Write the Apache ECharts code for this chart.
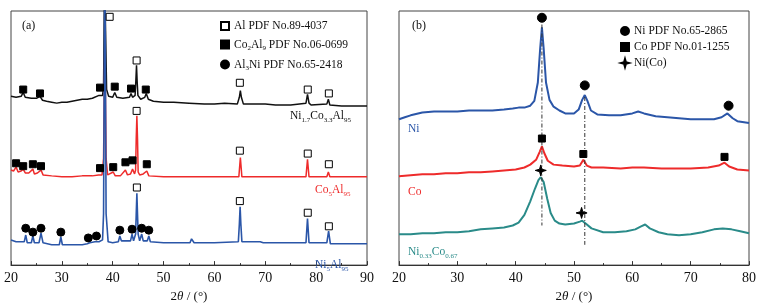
<!DOCTYPE html>
<html>
<head>
<meta charset="utf-8">
<script src="https://cdn.jsdelivr.net/npm/echarts@6/dist/echarts.min.js"></script>
<style>
  html, body { margin: 0; padding: 0; background: #fff; }
  #main { width: 763px; height: 308px; }
</style>
</head>
<body>
<div id="main"></div>
<script>
// (a) XRD of the Al based alloys, intensity in a.u. (offset traces)
var ni17co33 = [[20,174],[21,173],[22,174],[22.4,178],[22.8,173],[24,172],[25,172],[25.7,174],[26.2,170],[27,169],[28,168],[29,167],[30,168],[31,168],
    [32,169],[33,170],[34,171],[35,171],[36,172],[37.3,175],[37.6,177],[38,175],[38.2,183],[38.4,300],[38.6,300],[38.8,181],[39.2,174],[40,173],
    [40.4,178],[40.8,173],[42,172],[43.3,173],[43.6,177],[43.9,173],[44.4,175],[44.55,190],[44.68,206],[44.8,190],[44.95,175],[45.5,171],[46.3,173],
    [46.6,177],[47,171],[48,169],[50,168],[52,168],[55,167],[58,166],[60,166],[62,167],[64.5,166],[64.9,173],[65.1,180],[65.3,173],[65.7,166],
    [68,166],[70,166],[72,165],[75,165],[78,167],[78.3,176],[78.6,167],[79,165],[82.1,166],[82.4,171],[82.7,165],[85,164],[88,164],[90,164]];
var co5al95 = [[20,98],[20.5,97],[21,101],[21.4,96],[22,97],[22.4,99],[22.8,95],[23.5,95],[24.3,99],[24.6,94],[25.2,95],[25.9,98],[26.3,93],
    [28,92],[30,91],[32,91],[34,92],[36,92],[37.2,93],[37.5,95],[37.9,93],[38.2,110],[38.45,230],[38.7,110],[39,93],[40.1,96],[40.5,92],
    [41.5,92],[42.5,98],[42.9,93],[43.5,94],[43.9,99],[44.3,94],[44.5,98],[44.62,130],[44.75,154],[44.88,130],[45,96],[45.3,93],[46,94],
    [46.7,97],[47.1,92],[50,91],[55,91],[60,91],[64.8,91],[65.1,111],[65.4,91],[70,91],[75,91],[78,91],[78.3,109],[78.6,91],[82.1,91],
    [82.4,96],[82.7,91],[86,91],[90,91]];
var ni5al95 = [[20,26],[21,24],[22,24],[22.6,24],[22.9,31],[23.2,23],[24,23],[24.3,30],[24.6,23],[25.5,23],[25.9,33],[26.3,23],[28,21],
    [29.5,21],[29.8,29],[30.1,21],[32,21],[34,21],[35,22],[35.2,24],[35.5,23],[36.5,24],[36.8,26],[37.3,24],[38,26],[38.2,53],[38.45,330],
    [38.7,53],[39.1,24],[40,23],[41.1,24],[41.4,30],[41.7,25],[43.5,25],[43.8,32],[44.1,25],[44.5,32],[44.62,52],[44.75,74],[44.88,52],
    [45,32],[45.3,25],[45.7,32],[46,25],[46.8,25],[47.1,30],[47.4,24],[50,23],[55.2,23],[55.5,27],[56,23],[60,23],[64.7,24],[64.9,42],
    [65.05,60],[65.2,42],[65.4,24],[69,24],[69.3,26],[69.6,23],[75,23],[78,23],[78.3,48],[78.6,23],[82.1,23],[82.45,35],[82.8,22],[90,22]];

var alMarks = [[39.4,256],[44.7,211],[65.0,188],[78.35,181],[82.5,177],[44.7,159],[65.0,118],[78.35,115],[82.5,104],
    [44.75,80],[65.0,66],[78.35,54],[82.5,40]];
var co2al9Marks = [[22.4,181],[25.7,177],[37.5,183],[40.4,184],[43.6,182],[46.5,181],[21.0,105],[22.4,102],[24.3,104],[25.9,102],
    [37.5,100],[40.1,101],[42.5,106],[43.9,108],[46.7,104]];
var al3niMarks = [[22.9,38],[24.3,34],[25.9,38],[29.8,34],[35.2,28],[36.8,30],[41.4,36],[43.8,37],[45.7,38],[47.1,36]];

// (b) Ni, Co and Ni0.33Co0.67
var niTrace = [[20,151],[21,153],[22,155],[24,158],[26,159],[28,159],[30,159],[32,160],[34,160],[36,160],[38,161],[39.5,162],[40.5,163],
    [41.5,163],[42.5,165],[43.2,170],[43.8,189],[44.2,224],[44.5,246],[44.8,224],[45.2,189],[45.8,171],[46.5,164],[47.5,160],[48.5,157],
    [50,157],[50.8,161],[51.4,171],[51.85,176],[52.3,170],[52.9,160],[54,156],[56,155],[58,155],[60,157],[61,159],[62,157],[64,154],
    [66,153],[68,152],[70,151],[72,151],[74,151],[75.3,153],[76.3,157],[77.2,152],[78,149],[80,147]];
var coTrace = [[20,92],[22,93],[24,94],[26,94],[28,95],[30,95],[32,96],[34,96],[36,97],[38,98],[40,99],[41.5,101],[42.5,104],[43.5,109],
    [44.1,117],[44.5,123],[44.9,116],[45.5,108],[46.5,104],[48,103],[50,102],[51,103],[51.6,109],[52.2,103],[53,101],[55,101],[58,100],
    [60,101],[62,101],[65,100],[68,100],[70,100],[73,101],[74.8,103],[75.8,106],[76.6,102],[78,99],[80,98]];
var nicoTrace = [[20,32],[22,32],[24,33],[26,33],[28,34],[30,34],[32,35],[34,37],[36,38],[38,39],[39.5,41],[40.5,44],[41.5,52],[42.5,66],
    [43.3,79],[43.9,88],[44.3,91],[44.8,86],[45.4,69],[46,54],[46.7,46],[47.5,43],[48.5,42],[50,43],[51,45],[51.4,46],[52,43],[53,38],
    [55,34],[57,34],[59,35],[60.5,37],[61.5,40],[62.2,42],[63,38],[64.5,34],[66,32],[68,31],[70,32],[72,34],[74,37],[75.5,38],[77,37],
    [78.5,35],[80,33]];

var niMarks = [[44.5,256],[51.85,186],[76.5,165]];
var coMarks = [[44.5,131],[51.6,115],[75.8,112]];
var nicoMarks = [[44.3,98],[51.3,54]];
var guide1 = [[44.5,249],[44.5,41]];
var guide2 = [[51.85,174],[51.85,21]];

var serif = 'Liberation Serif';
var black = '#111', red = '#ee2b2b', blue = '#2b56a8', teal = '#2a8b89';
var star = 'path://M0,-10 L2.2,-2.2 L10,0 L2.2,2.2 L0,10 L-2.2,2.2 L-10,0 L-2.2,-2.2 Z';

var rich = {
    n: { fontFamily: serif, fontSize: 11.5, color: black, lineHeight: 15 },
    s: { fontFamily: serif, fontSize: 7, color: black, verticalAlign: 'bottom', lineHeight: 15, padding: [5, 0, 0, 0] }
};
var legendNames = {
    'Al PDF No.89-4037': '{n|Al PDF No.89-4037}',
    'Co2Al9 PDF No.06-0699': '{n|Co}{s|2}{n|Al}{s|9}{n| PDF No.06-0699}',
    'Al3Ni PDF No.65-2418': '{n|Al}{s|3}{n|Ni PDF No.65-2418}',
    'Ni PDF No.65-2865': '{n|Ni PDF No.65-2865}',
    'Co PDF No.01-1255': '{n|Co PDF No.01-1255}',
    'Ni(Co)': '{n|Ni(Co)}'
};

function xAx(idx, max) {
    return {
        gridIndex: idx, type: 'value', min: 20, max: max, interval: 10,
        axisLine: { lineStyle: { color: '#333', width: 1 } },
        axisTick: { inside: true, length: 4, lineStyle: { color: '#333' } },
        minorTick: { show: true, splitNumber: 2, length: 2, lineStyle: { color: '#333' } },
        splitLine: { show: false },
        axisLabel: { color: black, fontFamily: serif, fontSize: 14, margin: 6 },
        name: '{n|2}{i|θ}{n| / (°)}', nameLocation: 'middle', nameGap: 24,
        nameTextStyle: { rich: {
            n: { fontFamily: serif, fontSize: 13, color: black },
            i: { fontFamily: serif, fontSize: 13, color: black, fontStyle: 'italic' }
        } }
    };
}
function yAx(idx, max) {
    return { gridIndex: idx, type: 'value', min: 0, max: max, show: false };
}
function trace(name, data, color, ax, w) {
    return { name: name, type: 'line', data: data, xAxisIndex: ax, yAxisIndex: ax, symbol: 'none',
        lineStyle: { color: color, width: w }, silent: true, animation: false };
}
function marks(name, data, symbol, size, fill, ax) {
    return { name: name, type: 'scatter', data: data, xAxisIndex: ax, yAxisIndex: ax, symbol: symbol, symbolSize: size,
        itemStyle: { color: fill, borderColor: '#000', borderWidth: 1, opacity: 1 }, z: 5, animation: false };
}
function label(x, y, text, color) {
    var r = {
        n: { fontFamily: serif, fontSize: 11.5, fill: color, lineHeight: 15 },
        s: { fontFamily: serif, fontSize: 7, fill: color, verticalAlign: 'bottom', lineHeight: 15, padding: [5, 0, 0, 0] }
    };
    return { type: 'text', left: x, top: y, z: 10, style: { text: text, fill: color, rich: r } };
}

var chart = echarts.init(document.getElementById('main'));
var option = {
    backgroundColor: '#fff',
    animation: false,
    grid: [
        { left: 11, top: 11, width: 356, height: 262, show: true, borderColor: '#444', borderWidth: 1 },
        { left: 399, top: 11, width: 350, height: 263, show: true, borderColor: '#444', borderWidth: 1 }
    ],
    xAxis: [xAx(0, 90), xAx(1, 80)],
    yAxis: [yAx(0, 262), yAx(1, 263)],
    legend: [
        { orient: 'vertical', left: 215, top: 15, itemWidth: 8, itemHeight: 8, itemGap: 6.5, selectedMode: false,
          data: ['Al PDF No.89-4037', 'Co2Al9 PDF No.06-0699', 'Al3Ni PDF No.65-2418'],
          formatter: function (n) { return legendNames[n]; },
          textStyle: { fontFamily: serif, fontSize: 11.5, color: black, rich: rich } },
        { orient: 'vertical', left: 615, top: 20, itemWidth: 8, itemHeight: 8, itemGap: 4, selectedMode: false,
          data: ['Ni PDF No.65-2865', 'Co PDF No.01-1255', 'Ni(Co)'],
          formatter: function (n) { return legendNames[n]; },
          textStyle: { fontFamily: serif, fontSize: 11.5, color: black, rich: rich } }
    ],
    graphic: [
        { type: 'text', left: 22, top: 20, style: { text: '(a)', font: '12px ' + serif, fill: black } },
        { type: 'text', left: 412, top: 20, style: { text: '(b)', font: '12px ' + serif, fill: black } },
        label(290, 110, '{n|Ni}{s|1.7}{n|Co}{s|3.3}{n|Al}{s|95}', black),
        label(315, 184, '{n|Co}{s|5}{n|Al}{s|95}', red),
        label(315, 259, '{n|Ni}{s|5}{n|Al}{s|95}', blue),
        label(408, 123, '{n|Ni}', blue),
        label(408, 186, '{n|Co}', red),
        label(408, 246, '{n|Ni}{s|0.33}{n|Co}{s|0.67}', teal)
    ],
    series: [
        trace('Ni1.7Co3.3Al95', ni17co33, black, 0, 1.5),
        trace('Co5Al95', co5al95, red, 0, 1.5),
        trace('Ni5Al95', ni5al95, blue, 0, 1.6),
        marks('Al PDF No.89-4037', alMarks, 'rect', 7, '#fff', 0),
        marks('Co2Al9 PDF No.06-0699', co2al9Marks, 'rect', 7, '#000', 0),
        marks('Al3Ni PDF No.65-2418', al3niMarks, 'circle', 8, '#000', 0),
        { type: 'line', data: guide1, xAxisIndex: 1, yAxisIndex: 1, symbol: 'none', z: 4,
          lineStyle: { color: '#333', width: 1, type: [4, 2, 1, 2] } },
        { type: 'line', data: guide2, xAxisIndex: 1, yAxisIndex: 1, symbol: 'none', z: 4,
          lineStyle: { color: '#333', width: 1, type: [4, 2, 1, 2] } },
        trace('Ni', niTrace, blue, 1, 2),
        trace('Co', coTrace, red, 1, 2),
        trace('Ni0.33Co0.67', nicoTrace, teal, 1, 2),
        marks('Ni PDF No.65-2865', niMarks, 'circle', 9, '#000', 1),
        marks('Co PDF No.01-1255', coMarks, 'rect', 7, '#000', 1),
        marks('Ni(Co)', nicoMarks, star, 11, '#000', 1)
    ]
};
chart.setOption(option);
</script>
</body>
</html>
